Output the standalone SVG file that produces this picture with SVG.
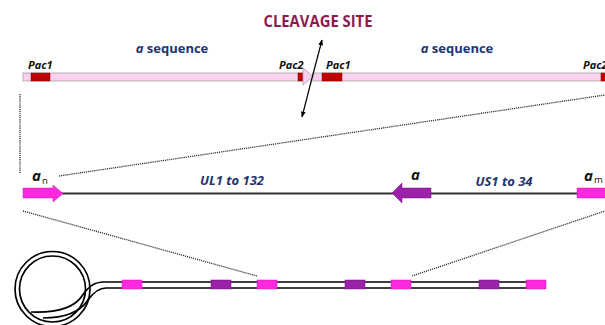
<svg xmlns="http://www.w3.org/2000/svg" width="605" height="325" viewBox="0 0 605 325">
<defs>
<style>
.bar{fill:#FAD2EF;stroke:#A8A0A8;stroke-width:0.8}
.pac{fill:#C00000;stroke:#8A0000;stroke-width:0.5}
.lbl{font-family:"Open Sans","Liberation Sans",sans-serif;font-weight:bold;font-style:italic;fill:#111;font-size:11px}
.seq{font-family:"Open Sans","Liberation Sans",sans-serif;font-weight:bold;fill:#1F3470;font-size:13px}
.gene{font-family:"Open Sans","Liberation Sans",sans-serif;font-weight:bold;font-style:italic;fill:#1F3470;font-size:13px}
.alab{font-family:"Open Sans","Liberation Sans",sans-serif;font-weight:bold;font-style:italic;fill:#111;font-size:15px}
.sub{font-family:"Open Sans","Liberation Sans",sans-serif;fill:#111;font-size:9.5px}
.dot{fill:none;stroke:#333;stroke-width:1.3;stroke-dasharray:1.2 0.9}
.mag{fill:#FF28DE;stroke:#C41CB0;stroke-width:0.5}
.pur{fill:#9B22A8;stroke:#6E1578;stroke-width:0.5}
.strand{fill:none;stroke:#000;stroke-width:1.7}
</style>
<marker id="ah" viewBox="0 0 10 10" refX="9" refY="5" markerWidth="6" markerHeight="6" orient="auto-start-reverse" markerUnits="userSpaceOnUse">
<path d="M0,1 L10,5 L0,9 Z" fill="#000"/>
</marker>
</defs>
<rect width="605" height="325" fill="#fff"/>

<g id="title">
<text x="318" y="27" text-anchor="middle" font-family="Open Sans, Liberation Sans, sans-serif" font-weight="bold" font-size="16.5" fill="#8E1A52" textLength="109" lengthAdjust="spacingAndGlyphs">CLEAVAGE SITE</text>
</g>

<g id="top-sequence">
<text class="seq" x="172" y="53" text-anchor="middle"><tspan font-style="italic">a</tspan> sequence</text>
<text class="seq" x="457" y="53" text-anchor="middle"><tspan font-style="italic">a</tspan> sequence</text>
<rect class="bar" x="23" y="73" width="281" height="8"/>
<rect class="pac" x="31" y="73" width="19" height="8"/>
<rect class="pac" x="298" y="73" width="6" height="8"/>
<polygon class="bar" points="303,68 313,76.5 303,85"/>
<rect class="bar" x="313" y="73" width="300" height="8"/>
<rect class="pac" x="322" y="73" width="20" height="8"/>
<rect class="pac" x="601" y="73" width="6" height="8"/>
<text class="lbl" x="28" y="69">Pac1</text>
<text class="lbl" x="279" y="69">Pac2</text>
<text class="lbl" x="326" y="69">Pac1</text>
<text class="lbl" x="583" y="69">Pac2</text>
</g>

<g id="connectors">
<line x1="312" y1="78" x2="322" y2="40" stroke="#000" stroke-width="1.2" marker-end="url(#ah)"/>
<line x1="312" y1="78" x2="302" y2="117" stroke="#000" stroke-width="1.2" marker-end="url(#ah)"/>
<line class="dot" x1="20" y1="94" x2="20" y2="173"/>
<line class="dot" x1="59" y1="176" x2="605" y2="95"/>
<line class="dot" x1="23" y1="211" x2="257" y2="276"/>
<line class="dot" x1="412" y1="276" x2="605" y2="211"/>
</g>

<g id="genome-linear">
<line x1="60" y1="193.5" x2="578" y2="193.5" stroke="#333" stroke-width="2"/>
<polygon class="mag" points="23,188 53,188 53,185 63,193.5 53,202 53,198 23,198"/>
<polygon class="pur" points="431,188 402,188 402,183 392,193 402,203 402,198 431,198"/>
<rect class="mag" x="577" y="188" width="30" height="10"/>
<text class="alab" x="32" y="181">a</text><text class="sub" x="42" y="184">n</text>
<text class="alab" x="411" y="180">a</text>
<text class="alab" x="584" y="181">a</text><text class="sub" x="594" y="183">m</text>
<text class="gene" x="232" y="185" text-anchor="middle">UL1 to 132</text>
<text class="gene" x="504" y="186" text-anchor="middle">US1 to 34</text>
</g>

<g id="genome-concatemer">
<circle class="strand" cx="52.5" cy="289" r="37.5"/>
<circle class="strand" cx="52.5" cy="289" r="33"/>
<path class="strand" d="M545,282 L104,282 C94,282 88,287 82,296 C74,308 58,313 31,312"/>
<path class="strand" d="M545,288 L106,288 C98,288 93,293 88,300 C80,312 64,318 43,318"/>
<rect class="mag" x="122" y="280" width="20" height="9"/>
<rect class="pur" x="211" y="280" width="20" height="9"/>
<rect class="mag" x="257" y="280" width="20" height="9"/>
<rect class="pur" x="345" y="280" width="20" height="9"/>
<rect class="mag" x="391" y="280" width="20" height="9"/>
<rect class="pur" x="479" y="280" width="20" height="9"/>
<rect class="mag" x="526" y="280" width="20" height="9"/>
</g>
</svg>
